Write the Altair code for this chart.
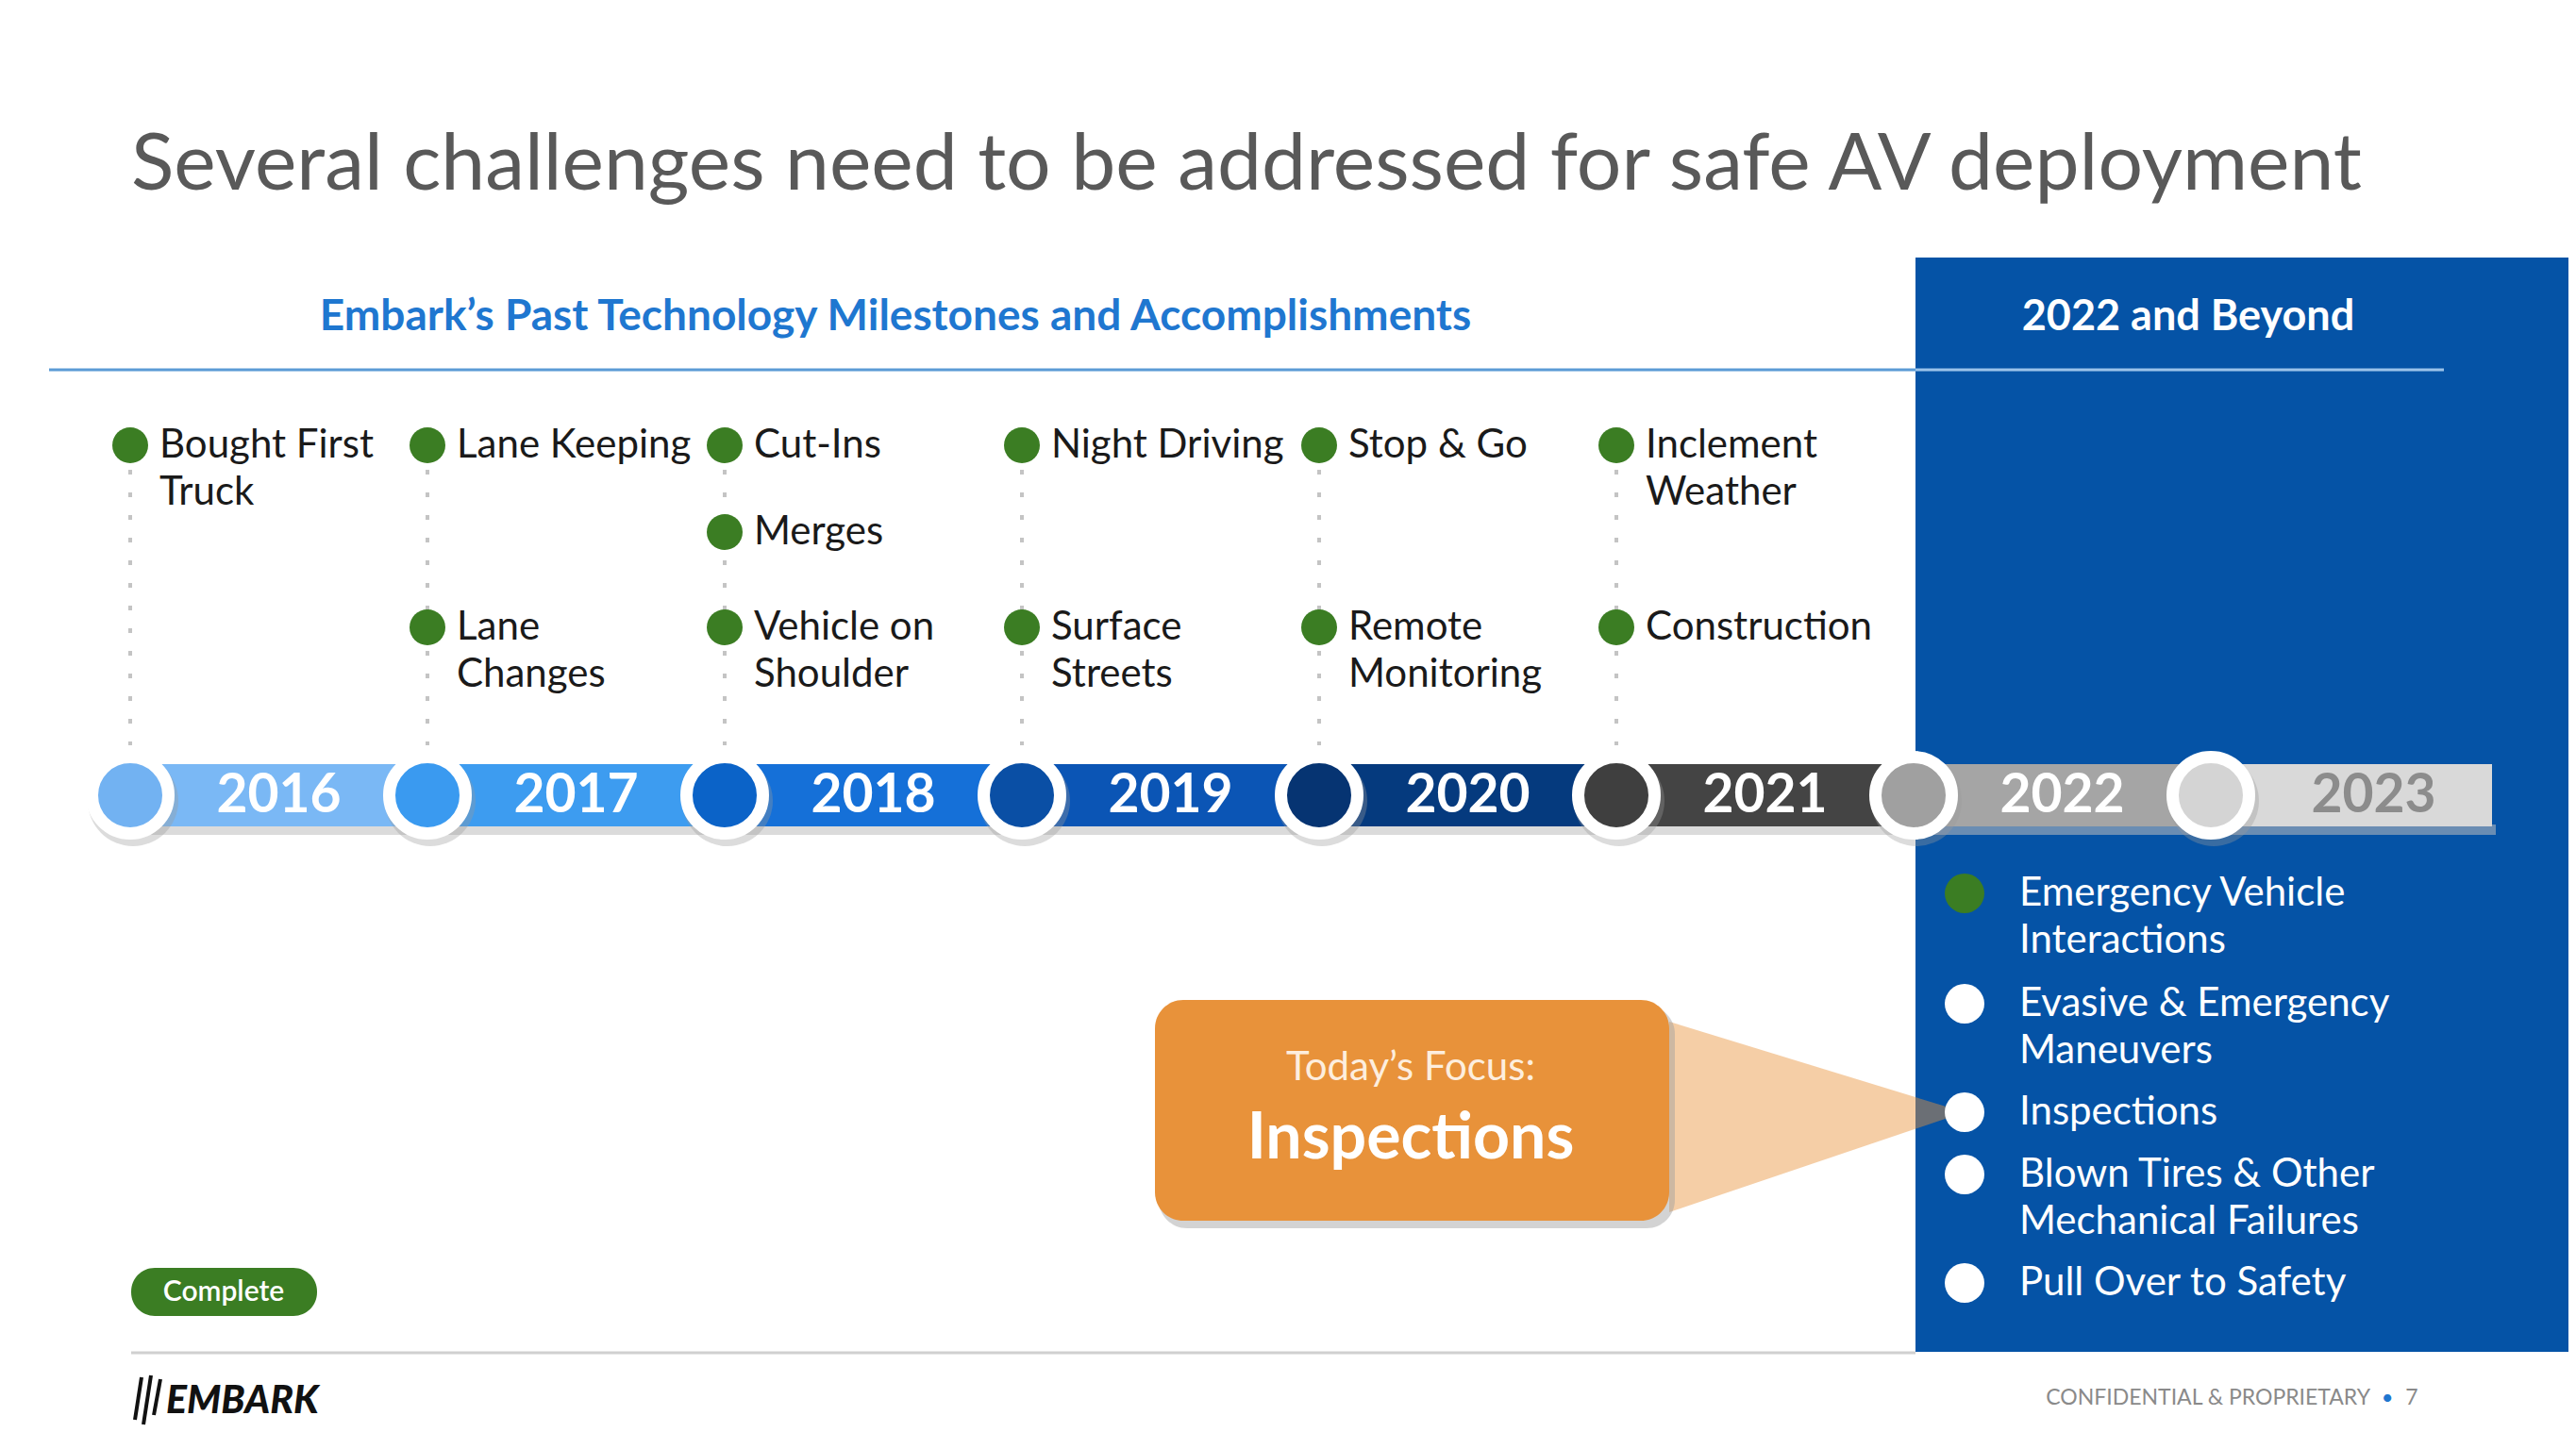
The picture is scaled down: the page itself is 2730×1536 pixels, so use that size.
import altair as alt
import pandas as pd

# ---------------- data ----------------
title = "Several challenges need to be addressed for safe AV deployment"
past_header = "Embark\u2019s Past Technology Milestones and Accomplishments"
future_header = "2022 and Beyond"

years = ["2016", "2017", "2018", "2019", "2020", "2021", "2022", "2023"]
band_colors = ["#7ab8f5", "#3d9cf0", "#1570d8", "#0b55b5", "#053a7e", "#444444", "#a5a5a5", "#d9d9d9"]
circle_colors = ["#72b2f2", "#3a9af0", "#0b63c8", "#0a4fa5", "#063472", "#3f3f3f", "#a0a0a0", "#d4d4d4"]
year_text_colors = ["#ffffff"] * 7 + ["#8c8c8c"]

milestone_text = ["Bought First\nTruck", "Lane Keeping", "Lane\nChanges", "Cut-Ins", "Merges",
                  "Vehicle on\nShoulder", "Night Driving", "Surface\nStreets", "Stop & Go",
                  "Remote\nMonitoring", "Inclement\nWeather", "Construction"]
milestone_year = ["2016", "2017", "2017", "2018", "2018", "2018", "2019", "2019", "2020", "2020", "2021", "2021"]
milestone_slot = [0, 0, 2, 0, 1, 2, 0, 2, 0, 2, 0, 2]

future_items = ["Emergency Vehicle\nInteractions", "Evasive & Emergency\nManeuvers", "Inspections",
                "Blown Tires & Other\nMechanical Failures", "Pull Over to Safety"]
future_done = [True, False, False, False, False]

focus_small = "Today\u2019s Focus:"
focus_big = "Inspections"
legend_label = "Complete"
footer_left = "EMBARK"
footer_right = "CONFIDENTIAL & PROPRIETARY"
page_number = "7"

# ---------------- layout ----------------
W, H = 2714, 1520
xs = alt.Scale(domain=[8, 2722], nice=False, zero=False)
ys = alt.Scale(domain=[8, 1528], nice=False, zero=False, reverse=True)
FONT = "Lato"
GREEN = "#3b7d23"
PANEL = "#0553a6"

X0, STEP = 138, 315
col_x = [X0 + STEP * i for i in range(len(years))]
BAR_END = 2641
BAR_Y, BAR_H = 843, 66
SLOT_Y = [472, 564, 665]
LINE_H = 50


def X(f="x"):
    return alt.X(f"{f}:Q", scale=xs, axis=None)


def Y(f="y"):
    return alt.Y(f"{f}:Q", scale=ys, axis=None)


def rect(df, **kw):
    return alt.Chart(pd.DataFrame(df)).mark_rect(**kw).encode(
        x=X(), x2=alt.X2("x2:Q"), y=Y(), y2=alt.Y2("y2:Q"))


def rule(df, **kw):
    return alt.Chart(pd.DataFrame(df)).mark_rule(**kw).encode(
        x=X(), x2=alt.X2("x2:Q"), y=Y(), y2=alt.Y2("y2:Q"))


def text(df, **kw):
    kw.setdefault("font", FONT)
    kw.setdefault("baseline", "middle")
    return alt.Chart(pd.DataFrame(df)).mark_text(**kw).encode(
        x=X(), y=Y(), text="t:N")


layers = []

# right panel
layers.append(rect([{"x": 2030, "x2": 2722, "y": 273, "y2": 1433}], color=PANEL))

# header rules
layers.append(rule([{"x": 52, "x2": 2030, "y": 392, "y2": 392}], color="#5b9bd5", strokeWidth=3))
layers.append(rule([{"x": 2030, "x2": 2590, "y": 392, "y2": 392}], color="#9cc3ea", strokeWidth=3))

# titles
layers.append(text([{"x": 139, "y": 176, "t": title}], align="left", fontSize=84, color="#595959"))
layers.append(text([{"x": 949, "y": 336, "t": past_header}], align="center", fontSize=46,
                   fontWeight="bold", color="#1f77d0"))
layers.append(text([{"x": 2319, "y": 336, "t": future_header}], align="center", fontSize=45,
                   fontWeight="bold", color="white"))

# dotted guide lines
guides = [{"x": col_x[i], "x2": col_x[i], "y": SLOT_Y[0] + 26, "y2": 790} for i in range(6)]
layers.append(rule(guides, color="#c4c4c4", strokeWidth=4, strokeDash=[5, 19]))

# milestone dots and labels
dots, lines = [], []
for t, yr, s in zip(milestone_text, milestone_year, milestone_slot):
    cx = col_x[years.index(yr)]
    cy = SLOT_Y[s]
    dots.append({"x": cx, "y": cy})
    for k, ln in enumerate(t.split("\n")):
        lines.append({"x": cx + 31, "y": cy + k * LINE_H, "t": ln})
layers.append(alt.Chart(pd.DataFrame(dots)).mark_circle(size=38 * 38, opacity=1, color=GREEN)
              .encode(x=X(), y=Y()))
layers.append(text(lines, align="left", fontSize=42, color="#1a1a1a"))

# bar shadow
layers.append(rect([{"x": col_x[0], "x2": BAR_END + 4, "y": BAR_Y + BAR_H / 2 - 2,
                     "y2": BAR_Y + BAR_H / 2 + 9}], color="#bdbdbd", opacity=0.55))

# bar segments
segs = []
for i, yr in enumerate(years):
    x2 = col_x[i + 1] if i + 1 < len(years) else BAR_END
    segs.append({"x": col_x[i], "x2": x2, "y": BAR_Y - BAR_H / 2, "y2": BAR_Y + BAR_H / 2,
                 "c": band_colors[i]})
layers.append(alt.Chart(pd.DataFrame(segs)).mark_rect().encode(
    x=X(), x2=alt.X2("x2:Q"), y=Y(), y2=alt.Y2("y2:Q"), color=alt.Color("c:N", scale=None)))

# circle shadows + circles
circ = [{"x": col_x[i], "y": BAR_Y, "c": circle_colors[i]} for i in range(len(years))]
shadow = [{"x": col_x[i] + 3, "y": BAR_Y + 6} for i in range(len(years))]
layers.append(alt.Chart(pd.DataFrame(shadow)).mark_circle(size=96 * 96, color="#9a9a9a", opacity=0.35)
              .encode(x=X(), y=Y()))
layers.append(alt.Chart(pd.DataFrame(circ)).mark_circle(size=81 * 81, opacity=1, stroke="white",
                                                         strokeWidth=13)
              .encode(x=X(), y=Y(), color=alt.Color("c:N", scale=None)))

# year labels
ylab = []
for i, yr in enumerate(years):
    left = col_x[i] + 47
    right = (col_x[i + 1] - 47) if i + 1 < len(years) else BAR_END
    ylab.append({"x": (left + right) / 2, "y": BAR_Y + 1, "t": yr, "c": year_text_colors[i]})
layers.append(alt.Chart(pd.DataFrame(ylab)).mark_text(font=FONT, fontSize=57, fontWeight="bold",
                                                       baseline="middle", align="center")
              .encode(x=X(), y=Y(), text="t:N", color=alt.Color("c:N", scale=None)))

# future list positions
FUT_Y = [947, 1064, 1179, 1245, 1360]
FUT_DOT_X, FUT_TXT_X = 2082, 2140

# callout wedge
wedge = [{"x": 1769, "y": 1083, "y2": 1285}, {"x": FUT_DOT_X, "y": FUT_Y[2], "y2": FUT_Y[2]}]
layers.append(alt.Chart(pd.DataFrame(wedge)).mark_area(color="#e8923a", opacity=0.45, orient="vertical")
              .encode(x=X(), y=Y(), y2=alt.Y2("y2:Q")))

# callout box
layers.append(rect([{"x": 1228, "x2": 1775, "y": 1066, "y2": 1302}], color="#9e9e9e", opacity=0.45,
                   cornerRadius=30))
layers.append(rect([{"x": 1224, "x2": 1769, "y": 1060, "y2": 1294}], color="#e8923a", cornerRadius=30))
layers.append(text([{"x": 1495, "y": 1132, "t": focus_small}], align="center", fontSize=42,
                   color="#fdeede"))
layers.append(text([{"x": 1495, "y": 1208, "t": focus_big}], align="center", fontSize=68,
                   fontWeight="bold", color="white"))

# future list
fdots, flines = [], []
for t, yy, done in zip(future_items, FUT_Y, future_done):
    fdots.append({"x": FUT_DOT_X, "y": yy, "c": GREEN if done else "white"})
    for k, ln in enumerate(t.split("\n")):
        flines.append({"x": FUT_TXT_X, "y": yy + k * LINE_H, "t": ln})
layers.append(alt.Chart(pd.DataFrame(fdots)).mark_circle(size=42 * 42, opacity=1)
              .encode(x=X(), y=Y(), color=alt.Color("c:N", scale=None)))
layers.append(text(flines, align="left", fontSize=42, color="white"))

# legend pill
layers.append(rect([{"x": 139, "x2": 336, "y": 1344, "y2": 1395}], color=GREEN, cornerRadius=25))
layers.append(text([{"x": 237, "y": 1370, "t": legend_label}], align="center", fontSize=30,
                   color="white", fontWeight=600))

# footer
layers.append(rule([{"x": 139, "x2": 2030, "y": 1434, "y2": 1434}], color="#d0d0d0", strokeWidth=3))
layers.append(rule([{"x": 150, "x2": 143, "y": 1460, "y2": 1505},
                    {"x": 160, "x2": 152, "y": 1458, "y2": 1510},
                    {"x": 170, "x2": 163, "y": 1462, "y2": 1500}], color="#111111", strokeWidth=4))
layers.append(text([{"x": 176, "y": 1486, "t": footer_left}], align="left", fontSize=41,
                   fontWeight=900, fontStyle="italic", color="#111111"))
layers.append(text([{"x": 2512, "y": 1482, "t": footer_right}], align="right", fontSize=23,
                   color="#8a8a8a"))
layers.append(text([{"x": 2530, "y": 1482, "t": "\u2022"}], align="center", fontSize=22, color="#1f77d0"))
layers.append(text([{"x": 2556, "y": 1482, "t": page_number}], align="center", fontSize=23,
                   color="#8a8a8a"))

chart = alt.layer(*layers).properties(
    width=W, height=H, padding=0,
    autosize=alt.AutoSizeParams(type="fit", contains="padding"),
    background="white",
).configure_view(stroke=None)

chart.save("out.html", embed_options={"renderer": "svg", "actions": False})
